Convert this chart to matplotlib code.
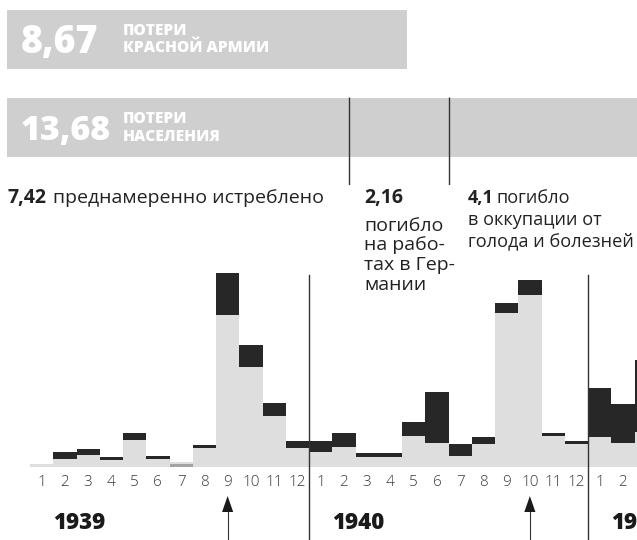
import matplotlib
matplotlib.use("Agg")
import matplotlib.pyplot as plt
import numpy as np

# --- data ---------------------------------------------------------------
totals_labels = ["8,67", "13,68"]
totals_values = [8.67, 13.68]
totals_text = [["ПОТЕРИ", "КРАСНОЙ АРМИИ"], ["ПОТЕРИ", "НАСЕЛЕНИЯ"]]

parts_values = [7.42, 2.16, 4.1]
parts_labels = ["7,42", "2,16", "4,1"]

years = ["1939", "1940", "1941"]
months = list(range(1, 13)) * 2 + [1, 2, 3]
# light grey part of each monthly bar
base = [3, 8, 11.7, 7, 26.7, 7.7, 5, 18.7, 152, 99.7, 51.3, 18.7,
        15.3, 19.7, 10.3, 10.3, 31, 23.7, 11.3, 23, 153.7, 172, 31, 23,
        29.7, 23.7, 35.3]
# dark part stacked on top
upper = [0, 6.7, 6.6, 3.3, 7.3, 3, 0, 3, 41.7, 22.3, 12.4, 7.3,
         11, 14.6, 4, 4, 14.3, 51, 11.7, 7, 10, 15, 3.3, 3.3,
         49, 39.3, 71.7]
# mid grey strip (July 1939)
mid = [0, 0, 0, 0, 0, 0, 3.3, 0, 0, 0, 0, 0,
       0, 0, 0, 0, 0, 0, 0, 0, 0, 0, 0, 0,
       0, 0, 0]
arrow_months = [8, 21]   # index of marked months

# --- style --------------------------------------------------------------
W, H = 637, 540
BAND = "#cfcfd0"
LIGHT = "#dedede"
DARK = "#272727"
MID = "#a3a3a3"
TXT = "#222222"
FONT = "Open Sans"

def px(x, y):
    return x / W, 1 - y / H

fig = plt.figure(figsize=(W / 100, H / 100), dpi=100)

# top bands: widths proportional to the totals
axt = fig.add_axes([7 / W, (H - 185) / H, 630.5 / W, 175 / H])
axt.set_xlim(0, max(totals_values))
axt.set_ylim(175, 0)
axt.axis("off")
axt.barh([29.5, 117.5], totals_values, height=59, color=BAND)
cuts = np.cumsum(parts_values)[:-1]
axt.vlines(cuts, 87, 175, color="#333333", lw=1)

big_y = [53, 140]
big_fs = [27, 24.5]
small_y = [(35, 51.7), (123, 141)]
for i in range(2):
    fig.text(*px(21, big_y[i]), totals_labels[i], color="white",
             fontsize=big_fs[i], fontweight="heavy", family=FONT,
             va="baseline")
    for t, yy in zip(totals_text[i], small_y[i]):
        fig.text(*px(123, yy), t, color="white", fontsize=11.2,
                 fontweight="heavy", family=FONT, va="baseline")

# part captions
fs = 14
fs_r = 13.1
ls = 1.13
fig.text(*px(7, 203), parts_labels[0], fontsize=fs, fontweight="bold",
         family=FONT, color=TXT, va="baseline")
fig.text(*px(53, 203), "преднамеренно истреблено", fontsize=fs,
         family=FONT, color=TXT, va="baseline")
fig.text(*px(364, 203), parts_labels[1], fontsize=fs, fontweight="bold",
         family=FONT, color=TXT, va="baseline")
fig.text(*px(364, 290), "погибло\nна рабо-\nтах в Гер-\nмании", fontsize=fs,
         family=FONT, color=TXT, va="baseline", linespacing=ls)
fig.text(*px(468, 203), parts_labels[2], fontsize=fs_r, fontweight="bold",
         family=FONT, color=TXT, va="baseline")
fig.text(*px(497, 203), "погибло", fontsize=fs_r,
         family=FONT, color=TXT, va="baseline")
fig.text(*px(468, 246), "в оккупации от\nголода и болезней", fontsize=fs_r,
         family=FONT, color=TXT, va="baseline", linespacing=1.21)

# monthly bars
ax = fig.add_axes([30 / W, 73 / H, (W - 30) / W, 197 / H])
n = len(months)
x = np.arange(n)
xmax = (W - 30) / 23.25
ax.set_xlim(0, xmax)
ax.set_ylim(0, 197)
ax.axis("off")
ax.bar(x, base, width=1, align="edge", color=LIGHT, lw=0)
ax.bar(x, mid, width=1, align="edge", color=MID, lw=0)
ax.bar(x, upper, width=1, bottom=base, align="edge", color=DARK, lw=0)

for i, m in enumerate(months):
    if i + 0.5 > xmax - 0.3:
        continue
    ax.text(i + 0.5, -15, str(m), ha="center", va="center", fontsize=11,
            family=FONT, fontweight="light", color="#3a3a3a", clip_on=False)

for k, yr in enumerate(years):
    start = 12 * k
    ax.text(start + 1, -56, yr, ha="left", va="center", fontsize=16,
            fontweight="heavy", family=FONT, color="#1a1a1a", clip_on=False)
    if k > 0:
        ax.axvline(start, ymin=-73 / 197, ymax=192 / 197, color="#333333",
                   lw=1, clip_on=False)

for i in arrow_months:
    xc = i + 0.5
    ax.plot([xc, xc], [-45, -73], color="#333333", lw=0.8, clip_on=False)
    ax.fill([xc - 0.24, xc + 0.24, xc], [-45, -45, -29], color="#1a1a1a",
            lw=0, clip_on=False)

fig.savefig("out.png", dpi=100)
